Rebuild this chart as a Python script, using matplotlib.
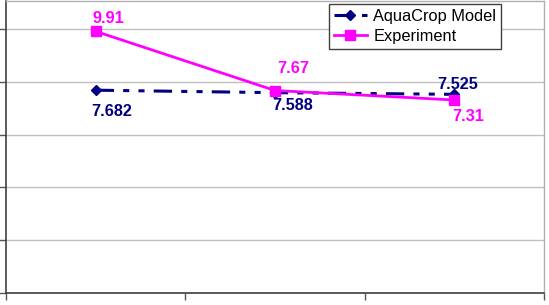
import numpy as np
import matplotlib.pyplot as plt

plt.rcParams['font.family'] = ['Liberation Sans', 'DejaVu Sans']

# values (three unnamed categories)
categories = ['1', '2', '3']
model = [7.682, 7.588, 7.525]
experiment = [9.91, 7.67, 7.31]
model_labels = ['7.682', '7.588', '7.525']
exp_labels = ['9.91', '7.67', '7.31']

navy = '#000080'
magenta = '#ff00ff'

fig = plt.figure(figsize=(5.49, 3.05), dpi=100)
ax = fig.add_axes([6 / 549, 12 / 305, 538 / 549, 292 / 305])

x = np.arange(1, len(categories) + 1)

ax.plot(x, model, color=navy, lw=2.2, dashes=(6, 3, 2, 3, 2, 3),
        marker='D', markersize=5, label='AquaCrop Model', zorder=3)
ax.plot(x, experiment, color=magenta, lw=2, marker='s', markersize=7,
        label='Experiment', zorder=4)

# label offsets in pixels (dx, dy)
model_off = [(16, -21), (18, -13), (3, 10)]
exp_off = [(13, 13), (18, 22), (14, -16)]
for xi, v, t, off in zip(x, model, model_labels, model_off):
    ax.annotate(t, (xi, v), xytext=off, textcoords='offset pixels',
                ha='center', va='center', color=navy, fontsize=11.7,
                fontweight='bold')
for xi, v, t, off in zip(x, experiment, exp_labels, exp_off):
    ax.annotate(t, (xi, v), xytext=off, textcoords='offset pixels',
                ha='center', va='center', color=magenta, fontsize=11.7,
                fontweight='bold')

ax.set_xlim(0.503, 3.475)
ax.set_ylim(0, 11.06)
ax.set_yticks(np.arange(0, 11, 2))
ax.set_xticks([0.5, 1.5, 2.5, 3.5])
ax.set_xticklabels([])
ax.set_yticklabels([])
ax.tick_params(axis='both', direction='out', length=5, width=1, color='#555555')
ax.yaxis.grid(True, color='#c0c0c0', lw=1)
ax.set_axisbelow(True)

for s in ['top', 'right']:
    ax.spines[s].set_color('#b0b0b0')
    ax.spines[s].set_linewidth(1)
for s in ['left', 'bottom']:
    ax.spines[s].set_color('#404040')
    ax.spines[s].set_linewidth(1.2)

leg = fig.legend(loc='upper left', bbox_to_anchor=(329 / 549, 1 - 4 / 305),
                 borderaxespad=0, fancybox=False, framealpha=1,
                 edgecolor='#404040', fontsize=11.8, handlelength=2.0,
                 borderpad=0.3, labelspacing=0.3, handletextpad=0.4)
leg.get_frame().set_linewidth(1)

fig.savefig('out.png', dpi=100)
